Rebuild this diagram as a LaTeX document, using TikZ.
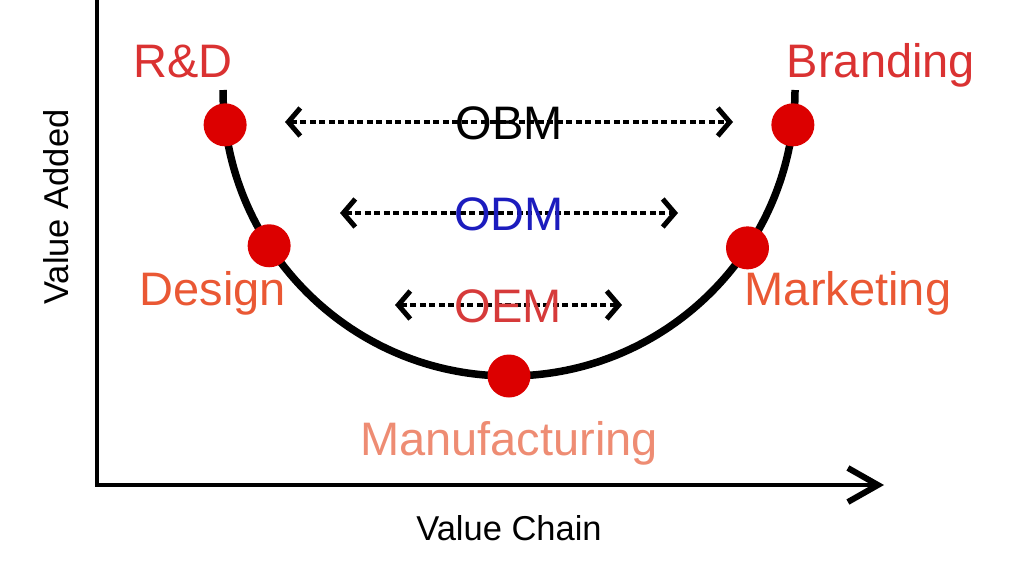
\documentclass[tikz,border=0pt]{standalone}
\usepackage{fontspec}
\setmainfont{Liberation Sans}
\usetikzlibrary{arrows.meta,calc}
\definecolor{dotred}{RGB}{220,0,0}
\definecolor{topred}{RGB}{218,50,50}
\definecolor{midorange}{RGB}{234,88,52}
\definecolor{lowsalmon}{RGB}{238,140,115}
\definecolor{oemred}{RGB}{214,58,58}
\definecolor{odmblue}{RGB}{28,28,190}

\begin{document}
\begin{tikzpicture}[
    x=1pt, y=1pt,
    axis/.style={
        line width=4pt,
    },
    ucurve/.style={
        line width=7.5pt,
    },
    dot/.style={
        circle,
        fill=dotred,
        minimum size=43pt,
        inner sep=0pt
    },
    stage/.style={
        anchor=base,
        font=\fontsize{47}{50}\selectfont
    },
    axislabel/.style={
        anchor=base,
        font=\fontsize{34.5}{40}\selectfont
    },
    span/.style={
        line width=3.5pt,
        dash pattern=on 6pt off 3.5pt,
        {Straight Barb[length=12pt,width=28pt,line width'=5pt]}-{Straight Barb[length=12pt,width=28pt,line width'=5pt]}
    }
    ]
\useasboundingbox (0,0) rectangle (1024,-576);

% axes
\coordinate (origin) at (97,-485);
\coordinate (ytop) at (97,0);
\coordinate (xend) at (884,-485);
\draw[axis] (ytop) -- (origin);
\draw[axis, -{Straight Barb[length=30pt,width=34pt,line width'=6pt]}] ([xshift=-2pt]origin) -- (xend);
\node[axislabel] (xlab) at (509,-540) {Value Chain};
\node[axislabel, rotate=90] (ylab) at (68,-207) {Value Added};

% smile curve
\coordinate (c) at (509,-90);
\draw[ucurve] (223,-90) arc[start angle=180, end angle=360, radius=286];

\foreach \name/\ang in {rd/187, design/213, manuf/270, market/326.5, brand/353}
    \node[dot] (\name) at ($(c)+(\ang:286)$) {};

\node[stage, text=topred] (rdlab) at (183,-77) {R\&D};
\node[stage, text=topred] (brandlab) at (881,-77) {Branding};
\node[stage, text=midorange] (designlab) at (213,-305) {Design};
\node[stage, text=midorange] (marketlab) at (848,-305) {Marketing};
\node[stage, text=lowsalmon] (manuflab) at (509,-455) {Manufacturing};

% spans
\foreach \name/\xa/\xb/\yy/\col/\txt in {obm/285/733/122/black/OBM, odm/340/678/213/odmblue/ODM, oem/395/622/305/oemred/OEM}
{
    \coordinate (\name-l) at (\xa,-\yy);
    \coordinate (\name-r) at (\xb,-\yy);
    \draw[span] (\name-l) -- (\name-r);
    \node[stage, text=\col] (\name) at ($(\name-l)!0.5!(\name-r)+(0,-17)$) {\txt};
}
\end{tikzpicture}
\end{document}
